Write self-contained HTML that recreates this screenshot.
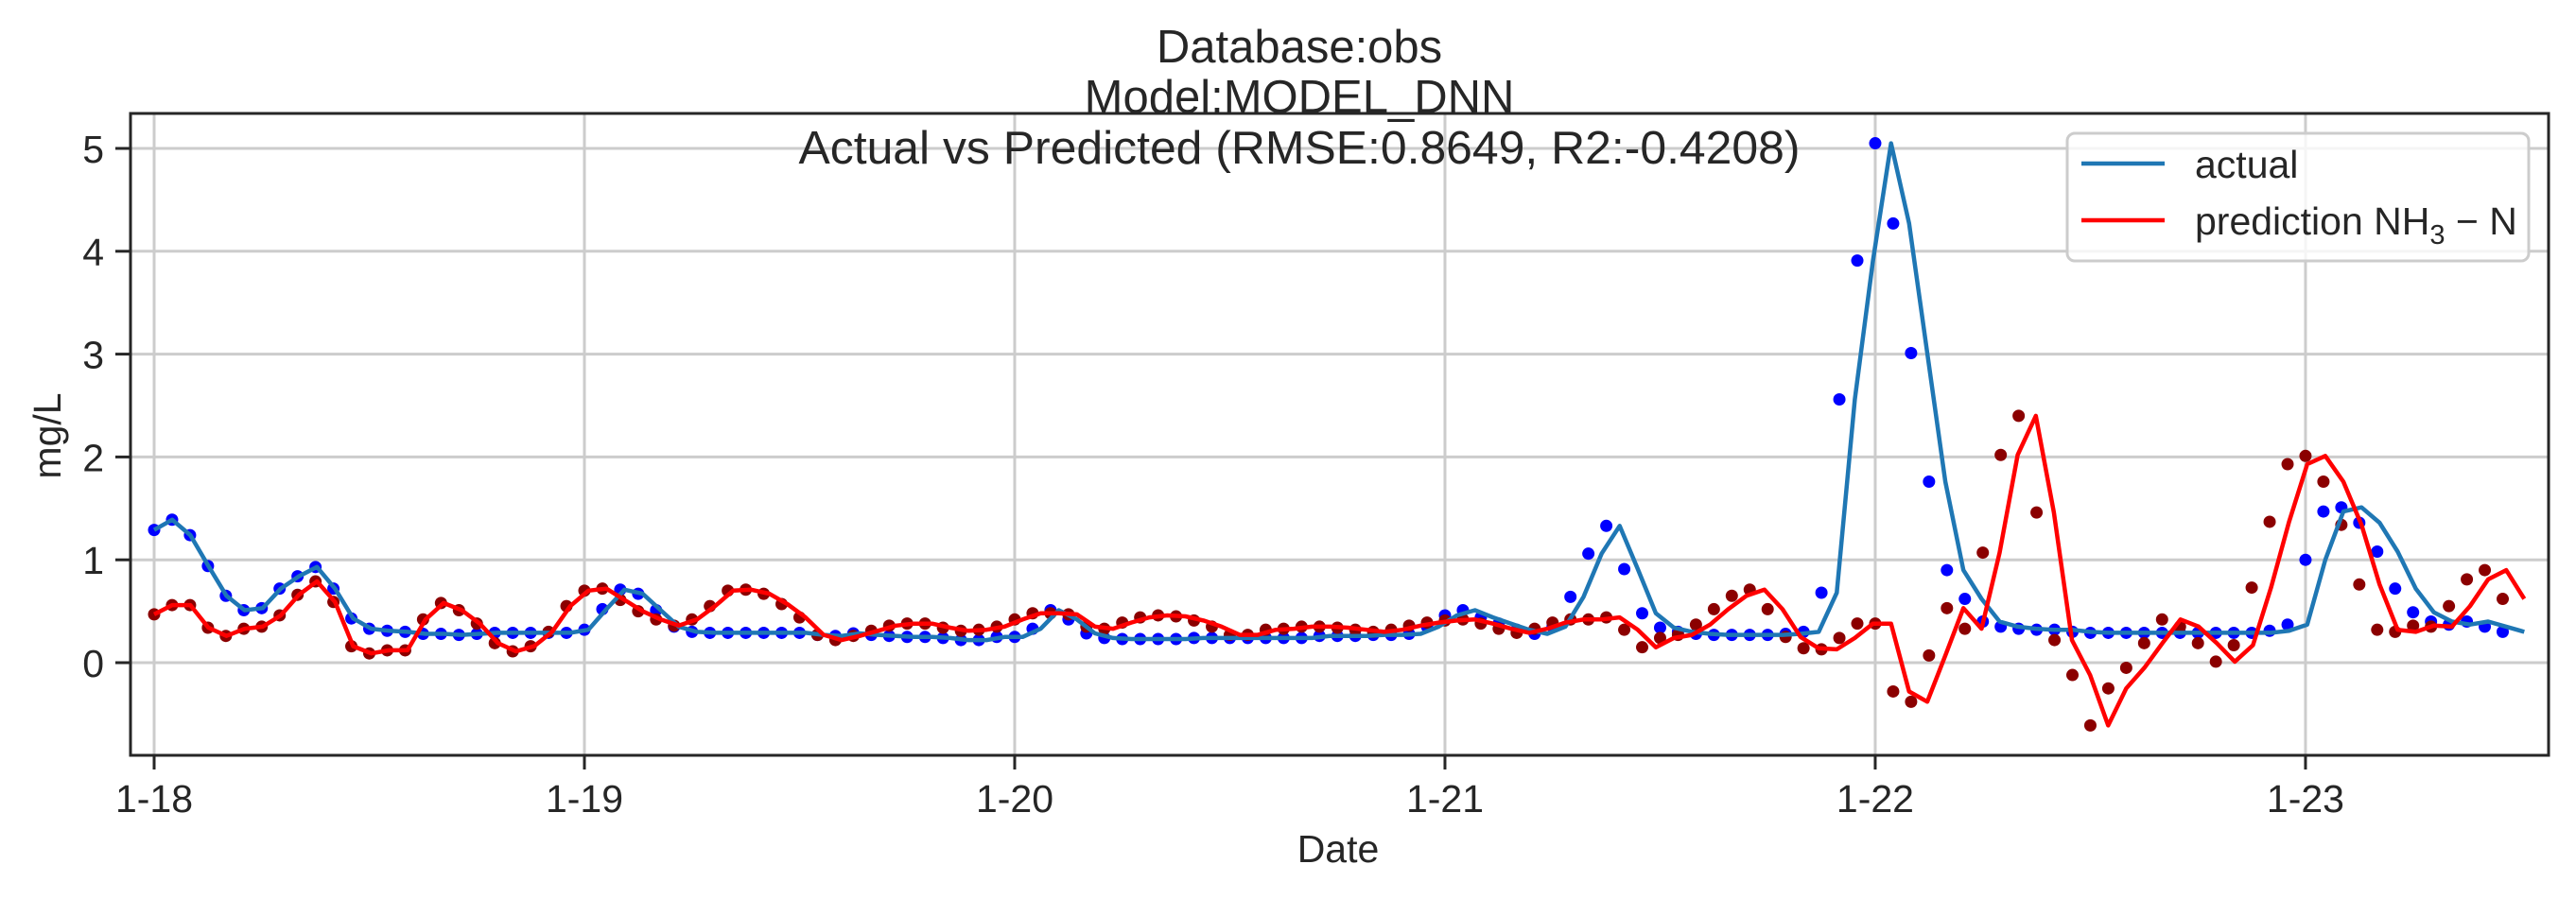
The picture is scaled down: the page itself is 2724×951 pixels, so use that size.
<!DOCTYPE html>
<html><head><meta charset="utf-8"><style>
html,body{margin:0;padding:0;background:#fff;}
svg{display:block;font-family:"Liberation Sans",sans-serif;}
</style></head><body>
<svg id="chart" width="2724" height="951" viewBox="0 0 2724 951" xmlns="http://www.w3.org/2000/svg">
<rect x="0" y="0" width="2724" height="951" fill="#fff"/>
<g id="grid"></g>
<g id="series"></g>
<rect x="138" y="120" width="2557" height="679" fill="none" stroke="#262626" stroke-width="3"/>
<g id="axes"></g>
<text x="1374" y="66" font-size="49" text-anchor="middle" fill="#262626">Database:obs</text>
<text x="1374" y="119" font-size="49" text-anchor="middle" fill="#262626">Model:MODEL_DNN</text>
<text x="1374" y="173" font-size="49" text-anchor="middle" fill="#262626" textLength="1059" lengthAdjust="spacingAndGlyphs">Actual vs Predicted (RMSE:0.8649, R2:-0.4208)</text>
<text x="1415" y="912" font-size="41" text-anchor="middle" fill="#262626">Date</text>
<text x="0" y="0" font-size="41" text-anchor="middle" fill="#262626" transform="translate(64,461) rotate(-90)">mg/L</text>
<g>
<rect x="2186" y="141" width="488" height="135" rx="8" fill="#fff" fill-opacity="0.8" stroke="#cccccc" stroke-width="3"/>
<line x1="2201" y1="173" x2="2289" y2="173" stroke="#1f77b4" stroke-width="4.5"/>
<text x="2321" y="188" font-size="41" fill="#262626">actual</text>
<line x1="2201" y1="233" x2="2289" y2="233" stroke="#ff0000" stroke-width="4.5"/>
<text x="2321" y="248" font-size="41" fill="#262626">prediction NH<tspan font-size="29" dy="10">3</tspan><tspan dy="-10"> − N</tspan></text>
</g>
</svg>
<script>
const actual = [1.29,1.39,1.24,0.94,0.65,0.51,0.53,0.72,0.84,0.93,0.72,0.43,0.33,0.31,0.30,0.28,0.28,0.27,0.28,0.29,0.29,0.29,0.29,0.29,
0.32,0.52,0.71,0.67,0.51,0.35,0.30,0.29,0.29,0.29,0.29,0.29,0.29,0.27,0.26,0.285,0.27,0.26,0.25,0.25,0.24,0.22,0.22,0.25,
0.25,0.33,0.51,0.42,0.285,0.24,0.23,0.23,0.23,0.23,0.24,0.24,0.24,0.24,0.24,0.24,0.24,0.26,0.26,0.26,0.27,0.27,0.28,0.35,
0.46,0.51,0.44,0.38,0.32,0.28,0.35,0.64,1.06,1.33,0.91,0.48,0.34,0.30,0.28,0.27,0.27,0.27,0.27,0.28,0.30,0.68,2.56,3.91,
5.05,4.27,3.01,1.76,0.90,0.62,0.40,0.35,0.33,0.32,0.32,0.30,0.29,0.29,0.29,0.29,0.29,0.29,0.29,0.29,0.29,0.29,0.31,0.37,
1.00,1.47,1.51,1.36,1.08,0.72,0.49,0.40,0.37,0.40,0.35,0.30];
const predicted = [0.47,0.56,0.56,0.34,0.26,0.33,0.35,0.46,0.66,0.79,0.59,0.16,0.09,0.12,0.12,0.42,0.58,0.51,0.38,0.19,0.11,0.16,0.30,0.55,
0.70,0.72,0.61,0.50,0.42,0.36,0.42,0.55,0.70,0.71,0.67,0.57,0.44,0.27,0.22,0.26,0.31,0.36,0.38,0.38,0.34,0.31,0.32,0.35,
0.42,0.48,0.48,0.47,0.35,0.33,0.39,0.44,0.46,0.45,0.41,0.35,0.27,0.27,0.32,0.33,0.35,0.35,0.34,0.32,0.30,0.32,0.36,0.39,
0.41,0.42,0.38,0.33,0.29,0.33,0.39,0.42,0.42,0.44,0.32,0.15,0.24,0.27,0.37,0.52,0.65,0.71,0.52,0.25,0.14,0.13,0.24,0.38,
0.38,-0.28,-0.38,0.07,0.53,0.33,1.07,2.02,2.40,1.46,0.22,-0.12,-0.61,-0.25,-0.05,0.19,0.42,0.35,0.19,0.01,0.17,0.73,
1.37,1.93,2.01,1.76,1.34,0.76,0.32,0.30,0.36,0.35,0.55,0.81,0.90,0.62];
const yTicks = [0,1,2,3,4,5];
const xTickLabels = ["1-18","1-19","1-20","1-21","1-22","1-23"];
const xTickHours = [0,24,48,72,96,120];

const NS = "http://www.w3.org/2000/svg";
const X0 = 163, PX_PER_HOUR = 18.958, Y0 = 701, PX_PER_UNIT = 108.8;
const LINE_STEP = 1.0092;
function xs(h){ return X0 + h*PX_PER_HOUR; }
function ys(v){ return Y0 - v*PX_PER_UNIT; }
function mk(tag, attrs, parent){
  const e = document.createElementNS(NS, tag);
  for (const k in attrs) e.setAttribute(k, attrs[k]);
  parent.appendChild(e); return e;
}
const grid = document.getElementById('grid');
const axes = document.getElementById('axes');
const series = document.getElementById('series');

yTicks.forEach(function(t){
  const g = mk('line',{x1:138,x2:2695,y1:ys(t),y2:ys(t),stroke:'#cccccc','stroke-width':3},grid);
  
  
  const tk = mk('line',{x1:122,x2:138,y1:ys(t),y2:ys(t),stroke:'#262626','stroke-width':3},axes);
  
  
  const tx = mk('text',{x:110,y:ys(t)+15,'font-size':41,'text-anchor':'end',fill:'#262626'},axes);
  
  
  tx.textContent = String(t);
});
xTickHours.forEach(function(h,i){
  const g = mk('line',{x1:xs(h),x2:xs(h),y1:120,y2:799,stroke:'#cccccc','stroke-width':3},grid);
  
  
  const tk = mk('line',{x1:xs(h),x2:xs(h),y1:799,y2:814,stroke:'#262626','stroke-width':3},axes);
  
  
  const tx = mk('text',{x:xs(h),y:859,'font-size':41,'text-anchor':'middle',fill:'#262626'},axes);
  
  
  tx.textContent = xTickLabels[i];
});

actual.forEach(function(v,i){
  const c = mk('circle',{cx:xs(i),cy:ys(v),r:6.5,fill:'#0000ff'},series);
  
  
});
predicted.forEach(function(v,i){
  const c = mk('circle',{cx:xs(i),cy:ys(v),r:6.5,fill:'#8b0000'},series);
  
  
});
function linePts(arr){ return arr.map(function(v,i){ return xs(i*LINE_STEP).toFixed(1)+','+ys(v).toFixed(1); }).join(' '); }
const la = mk('polyline',{points:linePts(actual),fill:'none',stroke:'#1f77b4','stroke-width':4.5,'stroke-linejoin':'round'},series);


const lp = mk('polyline',{points:linePts(predicted),fill:'none',stroke:'#ff0000','stroke-width':4.5,'stroke-linejoin':'round'},series);


</script>
</body></html>
